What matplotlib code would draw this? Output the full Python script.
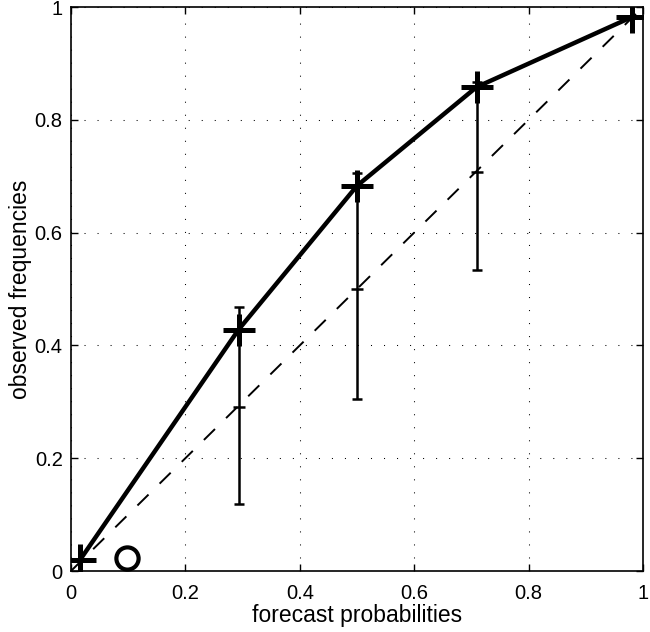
import matplotlib
matplotlib.use("Agg")
import matplotlib.pyplot as plt

# Data
forecast_prob = [0.016, 0.293, 0.500, 0.709, 0.980]
observed_freq = [0.020, 0.428, 0.683, 0.858, 0.982]

bar_x = [0.293, 0.500, 0.709]
bar_center = [0.290, 0.500, 0.707]
bar_lower = [0.119, 0.305, 0.534]
bar_upper = [0.468, 0.705, 0.867]

circle_x = [0.098]
circle_y = [0.023]

diag = [0, 1]
ticks = [0, 0.2, 0.4, 0.6, 0.8, 1]
tick_labels = ["0", "0.2", "0.4", "0.6", "0.8", "1"]

plt.rcParams['font.family'] = ['Liberation Sans', 'DejaVu Sans']

fig = plt.figure(figsize=(6.5, 6.32), dpi=100)
ax = fig.add_axes([0.1092, 0.0965, 0.88, 0.8924])

ax.plot(diag, diag, color='black', lw=1.4, linestyle=(0, (8, 8)), zorder=2)

yerr = [[c - l for c, l in zip(bar_center, bar_lower)],
        [u - c for c, u in zip(bar_center, bar_upper)]]
ax.errorbar(bar_x, bar_center, yerr=yerr, fmt='_', color='black',
            ms=8, mew=1.8, elinewidth=1.8, capsize=3.8, capthick=1.8, zorder=3)

ax.plot(forecast_prob, observed_freq, color='black', lw=3.2, marker='+',
        ms=23, mew=3.6, zorder=4)

ax.plot(circle_x, circle_y, linestyle='none', marker='o', ms=16, mew=3,
        markerfacecolor='none', markeredgecolor='black', zorder=4, clip_on=False)

ax.set_xlim(0, 1)
ax.set_ylim(0, 1)
ax.set_xticks(ticks)
ax.set_xticklabels(tick_labels)
ax.set_yticks(ticks)
ax.set_yticklabels(tick_labels)
ax.grid(True, color='black', lw=0.75, linestyle=(0, (1, 11.5)))
ax.tick_params(direction='in', top=True, right=True, length=5, width=1,
               labelsize=14.5)
ax.tick_params(axis='x', pad=9)
ax.tick_params(axis='y', pad=6)
for s in ax.spines.values():
    s.set_linewidth(1.2)
ax.set_xlabel("forecast probabilities", fontsize=16.5, labelpad=1)
ax.set_ylabel("observed frequencies", fontsize=16.5, labelpad=2)

fig.savefig("out.png", dpi=100)
